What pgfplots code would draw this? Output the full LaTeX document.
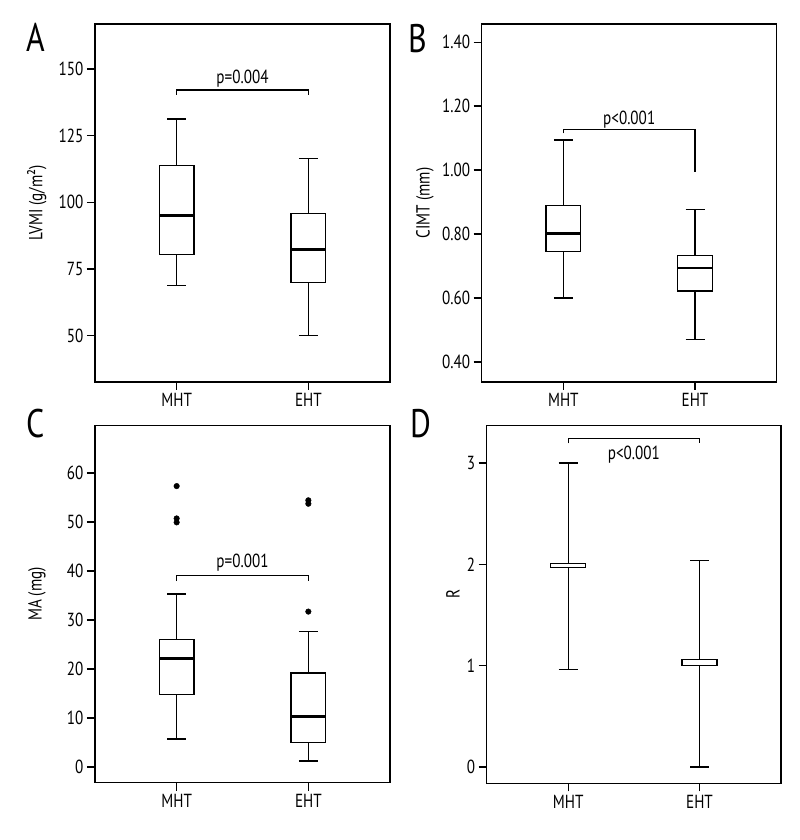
\documentclass[border=0pt]{standalone}
\usepackage{pgfplots}
\pgfplotsset{compat=1.18}
\usepackage{fontspec}
\setmainfont{PT Sans}[FakeStretch=0.8]

\pgfplotsset{
  panel/.style={
    scale only axis, width=295bp, height=358bp,
    xmin=-0.62, xmax=1.62,
    xtick={0,1}, xticklabels={MHT,EHT},
    tick align=outside, tick pos=left,
    major tick length=8bp,
    axis line style={line width=1.3bp},
    every tick/.style={black, line width=1.3bp},
    tick label style={font=\fontsize{19}{22}\selectfont},
    label style={font=\fontsize{19}{22}\selectfont},
    /pgf/number format/assume math mode=true,
    anchor=south west,
    clip=false,
  },
  ln/.style={black, line width=1.3bp, mark=none, forget plot},
  bx/.style={black, line width=1.3bp, fill=white, mark=none, forget plot},
  md/.style={black, line width=2.6bp, mark=none, forget plot},
  ol/.style={black, only marks, mark=*, mark size=2.8bp, mark options={fill=black}, forget plot},
}
\tikzset{
  brk/.style={black, line width=1.3bp},
  ptxt/.style={font=\fontsize{19}{22}\selectfont, inner sep=0pt, anchor=base},
  lett/.style={font=\fontsize{40}{44}\selectfont, inner sep=0pt, anchor=base west},
}

\begin{document}
\begin{tikzpicture}
\path[use as bounding box, fill=white] (0,0) rectangle (800bp,840bp);

% ---------- A ----------
\begin{axis}[panel, at={(95bp,458bp)},
  ymin=32.6, ymax=166.9, ytick={50,75,100,125,150},
  ylabel={LVMI (g/m²)},
  ylabel style={at={(axis description cs:-0.197,0.5)}, anchor=center}]
% MHT: 68.9 80.3 95 113.8 131.25
\addplot[ln] coordinates {(0,68.9) (0,80.3)};
\addplot[ln] coordinates {(0,113.8) (0,131.25)};
\addplot[ln] coordinates {(-0.072,68.9) (0.072,68.9)};
\addplot[ln] coordinates {(-0.072,131.25) (0.072,131.25)};
\addplot[bx] coordinates {(-0.1325,80.3) (0.1325,80.3) (0.1325,113.8) (-0.1325,113.8)} -- cycle;
\addplot[md] coordinates {(-0.1325,95) (0.1325,95)};
% EHT: 50 69.9 82.3 95.9 116.5
\addplot[ln] coordinates {(1,50) (1,69.9)};
\addplot[ln] coordinates {(1,95.9) (1,116.5)};
\addplot[ln] coordinates {(0.928,50) (1.072,50)};
\addplot[ln] coordinates {(0.928,116.5) (1.072,116.5)};
\addplot[bx] coordinates {(0.8675,69.9) (1.1325,69.9) (1.1325,95.9) (0.8675,95.9)} -- cycle;
\addplot[md] coordinates {(0.8675,82.3) (1.1325,82.3)};
\draw[brk] (axis cs:0,140.3) -- (axis cs:0,142.1) -- (axis cs:1,142.1) -- (axis cs:1,140.3);
\node[ptxt] at (axis cs:0.5,144.6) {p=0.004};
\end{axis}

% ---------- B ----------
\begin{axis}[panel, at={(481.7bp,458bp)},
  ymin=0.337, ymax=1.457, ytick={0.4,0.6,0.8,1.0,1.2,1.4},
  yticklabels={0.40,0.60,0.80,1.00,1.20,1.40},
  ylabel={CIMT (mm)},
  ylabel style={at={(axis description cs:-0.192,0.5)}, anchor=center}]
% MHT: 0.60 0.745 0.801 0.890 1.094
\addplot[ln] coordinates {(0,0.60) (0,0.745)};
\addplot[ln] coordinates {(0,0.890) (0,1.094)};
\addplot[ln] coordinates {(-0.072,0.60) (0.072,0.60)};
\addplot[ln] coordinates {(-0.072,1.094) (0.072,1.094)};
\addplot[bx] coordinates {(-0.1325,0.745) (0.1325,0.745) (0.1325,0.890) (-0.1325,0.890)} -- cycle;
\addplot[md] coordinates {(-0.1325,0.801) (0.1325,0.801)};
% EHT: 0.470 0.622 0.694 0.733 0.877
\addplot[ln] coordinates {(1,0.470) (1,0.622)};
\addplot[ln] coordinates {(1,0.733) (1,0.877)};
\addplot[ln] coordinates {(0.928,0.470) (1.072,0.470)};
\addplot[ln] coordinates {(0.928,0.877) (1.072,0.877)};
\addplot[bx] coordinates {(0.8675,0.622) (1.1325,0.622) (1.1325,0.733) (0.8675,0.733)} -- cycle;
\addplot[md] coordinates {(0.8675,0.694) (1.1325,0.694)};
\draw[brk] (axis cs:0,1.115) -- (axis cs:0,1.128) -- (axis cs:1,1.128) -- (axis cs:1,0.995);
\node[ptxt] at (axis cs:0.5,1.142) {p<0.001};
\end{axis}

% ---------- C ----------
\begin{axis}[panel, at={(95bp,57.3bp)}, height=357.4bp,
  ymin=-3.2, ymax=69.7, ytick={0,10,20,30,40,50,60},
  ylabel={MA (mg)},
  ylabel style={at={(axis description cs:-0.197,0.528)}, anchor=center}]
% MHT: 5.7 14.8 22.1 25.96 35.3
\addplot[ln] coordinates {(0,5.7) (0,14.8)};
\addplot[ln] coordinates {(0,25.96) (0,35.3)};
\addplot[ln] coordinates {(-0.072,5.7) (0.072,5.7)};
\addplot[ln] coordinates {(-0.072,35.3) (0.072,35.3)};
\addplot[bx] coordinates {(-0.1325,14.8) (0.1325,14.8) (0.1325,25.96) (-0.1325,25.96)} -- cycle;
\addplot[md] coordinates {(-0.1325,22.1) (0.1325,22.1)};
\addplot[ol] coordinates {(0,57.3) (0,50.7) (0,49.9)};
% EHT: 1.2 4.95 10.3 19.2 27.6
\addplot[ln] coordinates {(1,1.2) (1,4.95)};
\addplot[ln] coordinates {(1,19.2) (1,27.6)};
\addplot[ln] coordinates {(0.928,1.2) (1.072,1.2)};
\addplot[ln] coordinates {(0.928,27.6) (1.072,27.6)};
\addplot[bx] coordinates {(0.8675,4.95) (1.1325,4.95) (1.1325,19.2) (0.8675,19.2)} -- cycle;
\addplot[md] coordinates {(0.8675,10.3) (1.1325,10.3)};
\addplot[ol] coordinates {(1,31.7) (1,54.4) (1,53.7)};
\draw[brk] (axis cs:0,37.9) -- (axis cs:0,39.1) -- (axis cs:1,39.1) -- (axis cs:1,37.9);
\node[ptxt] at (axis cs:0.5,40.73) {p=0.001};
\end{axis}

% ---------- D ----------
\begin{axis}[panel, at={(486.7bp,56.7bp)}, width=294.3bp,
  ymin=-0.161, ymax=3.372, ytick={0,1,2,3},
  ylabel={R},
  ylabel style={at={(axis description cs:-0.1145,0.53)}, anchor=center}]
% MHT: 0.96 1.967 (median 2) 2.011 3.0
\addplot[ln] coordinates {(0,0.96) (0,1.967)};
\addplot[ln] coordinates {(0,2.011) (0,3.0)};
\addplot[ln] coordinates {(-0.072,0.96) (0.072,0.96)};
\addplot[ln] coordinates {(-0.072,3.0) (0.072,3.0)};
\addplot[bx] coordinates {(-0.1325,1.967) (0.1325,1.967) (0.1325,2.011) (-0.1325,2.011)} -- cycle;
% EHT: 0 1.0 (median 1) 1.063 2.04
\addplot[ln] coordinates {(1,0) (1,1.0)};
\addplot[ln] coordinates {(1,1.063) (1,2.04)};
\addplot[ln] coordinates {(0.928,0) (1.072,0)};
\addplot[ln] coordinates {(0.928,2.04) (1.072,2.04)};
\addplot[bx] coordinates {(0.8675,1.0) (1.1325,1.0) (1.1325,1.063) (0.8675,1.063)} -- cycle;
\draw[brk] (axis cs:0,3.194) -- (axis cs:0,3.244) -- (axis cs:1,3.244) -- (axis cs:1,3.194);
\node[ptxt] at (axis cs:0.5,3.030) {p<0.001};
\end{axis}

\node[lett] at (26.7bp,788.3bp) {A};
\node[lett] at (408bp,787.5bp) {B};
\node[lett] at (26.7bp,402.5bp) {C};
\node[lett] at (410bp,402.5bp) {D};
\end{tikzpicture}
\end{document}
